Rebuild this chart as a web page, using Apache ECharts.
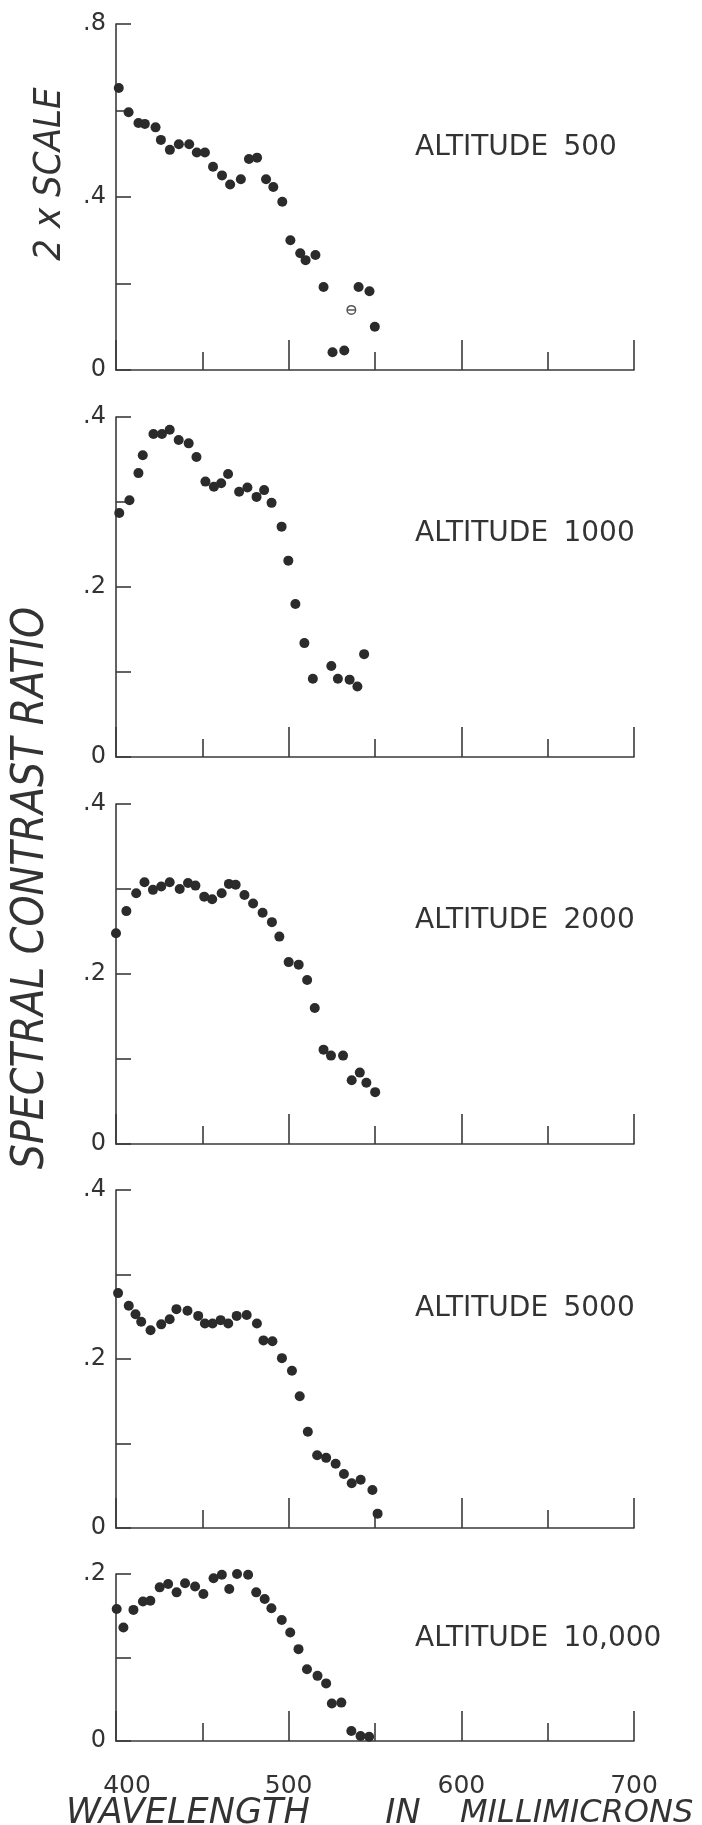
<!DOCTYPE html>
<html>
<head>
<meta charset="utf-8">
<script src="https://cdn.jsdelivr.net/npm/echarts@6/dist/echarts.min.js"></script>
<style>
  html, body { margin: 0; padding: 0; background: #ffffff; }
  #chart { width: 702px; height: 1825px; }
</style>
</head>
<body>
<div id="chart"></div>
<script>
// Wavelength axis (millimicrons)
const wavelengthTicks = [400, 500, 600, 700];
const wavelengthMinorTicks = [450, 550, 650];

// Altitude of each panel, top to bottom
const altitudes = ['500', '1000', '2000', '5000', '10,000'];

// Labelled ratio values on each panel's vertical axis
const ratioLabels500 = [0, 0.4, 0.8];
const ratioLabels = [0, 0.2, 0.4];
const ratioLabels10000 = [0, 0.2];

// Altitude 500 (plotted at 2x scale)
const wl500 = [401.6, 407.3, 413.0, 416.7, 422.9, 426.0, 431.2, 436.4, 442.4, 446.8, 451.5, 456.2, 461.4, 466.1, 472.3, 477.0, 481.7, 486.9, 491.1, 496.3, 501.0, 506.7, 509.8, 515.5, 520.2, 525.4, 532.2, 540.5, 546.8, 549.9];
const cr500 = [0.652, 0.596, 0.571, 0.569, 0.561, 0.532, 0.509, 0.522, 0.522, 0.503, 0.503, 0.470, 0.450, 0.429, 0.441, 0.488, 0.491, 0.441, 0.423, 0.389, 0.300, 0.270, 0.254, 0.266, 0.192, 0.041, 0.045, 0.192, 0.182, 0.100];
// struck-through reading at altitude 500
const wl500Open = [536.3];
const cr500Open = [0.139];

// Altitude 1000
const wl1000 = [401.9, 407.8, 413.0, 415.5, 421.7, 426.6, 431.1, 436.3, 442.1, 446.6, 451.8, 456.7, 460.9, 464.9, 471.3, 476.1, 481.4, 485.8, 490.1, 495.9, 499.8, 503.9, 509.1, 514.0, 524.7, 528.5, 535.3, 539.8, 543.7];
const cr1000 = [0.287, 0.302, 0.334, 0.355, 0.380, 0.380, 0.385, 0.373, 0.369, 0.353, 0.324, 0.318, 0.322, 0.333, 0.312, 0.317, 0.306, 0.314, 0.299, 0.271, 0.231, 0.180, 0.134, 0.092, 0.107, 0.092, 0.091, 0.083, 0.121];

// Altitude 2000
const wl2000 = [400.0, 406.0, 411.7, 416.5, 421.4, 426.2, 431.1, 436.9, 441.7, 446.0, 451.1, 455.7, 461.2, 465.4, 469.3, 474.4, 479.4, 484.9, 490.3, 494.6, 500.0, 505.8, 510.7, 515.1, 520.2, 524.5, 531.5, 536.5, 541.2, 545.0, 550.1];
const cr2000 = [0.248, 0.274, 0.295, 0.308, 0.299, 0.303, 0.308, 0.300, 0.307, 0.304, 0.291, 0.288, 0.295, 0.306, 0.305, 0.293, 0.283, 0.272, 0.261, 0.244, 0.214, 0.211, 0.193, 0.160, 0.111, 0.104, 0.104, 0.075, 0.084, 0.072, 0.061];

// Altitude 5000
const wl5000 = [401.2, 407.4, 411.3, 414.6, 420.0, 426.2, 431.1, 435.0, 441.4, 447.6, 451.5, 455.9, 460.6, 465.0, 469.9, 475.7, 481.6, 485.4, 490.6, 496.1, 501.9, 506.4, 511.1, 516.5, 521.7, 527.2, 532.0, 536.5, 541.7, 548.5, 551.5];
const cr5000 = [0.278, 0.263, 0.253, 0.244, 0.234, 0.241, 0.247, 0.259, 0.257, 0.251, 0.242, 0.242, 0.246, 0.242, 0.251, 0.252, 0.242, 0.222, 0.221, 0.201, 0.186, 0.156, 0.114, 0.086, 0.083, 0.076, 0.064, 0.053, 0.057, 0.045, 0.017];

// Altitude 10,000
const wl10000 = [400.4, 404.3, 410.1, 415.6, 419.9, 425.3, 430.2, 435.1, 440.0, 445.8, 450.6, 456.5, 461.3, 465.6, 470.1, 476.5, 481.2, 486.1, 490.0, 496.0, 500.9, 505.7, 510.6, 516.7, 521.7, 525.0, 530.5, 536.3, 541.6, 546.6];
const cr10000 = [0.158, 0.136, 0.157, 0.167, 0.168, 0.184, 0.188, 0.178, 0.189, 0.185, 0.176, 0.195, 0.199, 0.182, 0.200, 0.199, 0.178, 0.170, 0.159, 0.145, 0.130, 0.110, 0.086, 0.078, 0.069, 0.045, 0.046, 0.012, 0.006, 0.005];

const INK = '#2b2b2b';
const LINE = '#3a3a3a';
const FONT = "'DejaVu Sans', 'Liberation Sans', sans-serif";
const FONT_NARROW = "'DejaVu Sans Condensed', 'Liberation Sans Narrow', 'DejaVu Sans', sans-serif";

// ring with a bar through it
const STRUCK_DOT = 'path://M0,10A10,10,0,1,0,20,10A10,10,0,1,0,0,10ZM3,10A7,7,0,1,1,17,10A7,7,0,1,1,3,10ZM3,8.5L17,8.5L17,11.5L3,11.5Z';

const zip = (xs, ys) => xs.map((x, i) => [x, ys[i]]);

// Panel layout, top to bottom
const panels = [
  { top: 24,   height: 346, max: 0.8, step: 0.2, labels: ratioLabels500,   wl: wl500,   cr: cr500,   altY: 144 },
  { top: 417,  height: 340, max: 0.4, step: 0.1, labels: ratioLabels,      wl: wl1000,  cr: cr1000,  altY: 530 },
  { top: 804,  height: 340, max: 0.4, step: 0.1, labels: ratioLabels,      wl: wl2000,  cr: cr2000,  altY: 917 },
  { top: 1190, height: 338, max: 0.4, step: 0.1, labels: ratioLabels,      wl: wl5000,  cr: cr5000,  altY: 1305 },
  { top: 1574, height: 167, max: 0.2, step: 0.1, labels: ratioLabels10000, wl: wl10000, cr: cr10000, altY: 1635 }
];

const ratioText = (v, labels) => {
  const hit = labels.some(l => Math.abs(l - v) < 1e-6);
  if (!hit) return '';
  if (Math.abs(v) < 1e-6) return '0';
  return '.' + Math.round(v * 10);
};

const tickLine = { color: LINE, width: 1.6 };
const grids = [], xAxes = [], yAxes = [], series = [], graphics = [];

panels.forEach((p, i) => {
  const last = i === panels.length - 1;
  grids.push({ left: 116, right: 68, top: p.top, height: p.height, containLabel: false });

  // main wavelength axis: line, long ticks every 100, labels on the bottom panel
  xAxes.push({
    type: 'value', gridIndex: i, position: 'bottom', min: 400, max: 700, interval: 100,
    axisLine: { show: true, onZero: false, lineStyle: tickLine },
    axisTick: { show: true, inside: true, length: 30, customValues: wavelengthTicks, lineStyle: tickLine },
    splitLine: { show: false },
    axisLabel: {
      show: last, margin: 33, color: '#333', fontFamily: FONT, fontSize: 25,
      customValues: wavelengthTicks,
      formatter: v => v === wavelengthTicks[0] ? '{first|' + v + '}' : String(v),
      rich: { first: { fontFamily: FONT, fontSize: 25, color: '#333', padding: [0, 0, 0, 22] } }
    }
  });
  // shorter ticks half-way between
  xAxes.push({
    type: 'value', gridIndex: i, position: 'bottom', min: 400, max: 700, interval: 50,
    axisLine: { show: false, onZero: false },
    axisTick: { show: true, inside: true, length: 18, customValues: wavelengthMinorTicks, lineStyle: tickLine },
    splitLine: { show: false },
    axisLabel: { show: false }
  });

  yAxes.push({
    type: 'value', gridIndex: i, min: 0, max: p.max, interval: p.step,
    axisLine: { show: true, onZero: false, lineStyle: tickLine },
    axisTick: { show: true, inside: true, length: 15, lineStyle: tickLine },
    splitLine: { show: false },
    axisLabel: {
      show: true, margin: 10, color: '#333', fontFamily: FONT, fontSize: 24,
      formatter: v => ratioText(v, p.labels)
    }
  });

  series.push({
    type: 'scatter', xAxisIndex: i * 2, yAxisIndex: i,
    symbol: 'circle', symbolSize: 10,
    itemStyle: { color: INK, opacity: 1 },
    data: zip(p.wl, p.cr)
  });

  graphics.push({
    type: 'text', left: 415, top: p.altY - 10,
    style: {
      text: '{a|ALTITUDE} {n|' + altitudes[i] + '}',
      rich: {
        a: { fontFamily: FONT, fontSize: 28, fill: '#333' },
        n: { fontFamily: FONT, fontSize: 28, fill: '#333', padding: [0, 0, 0, 12] }
      }
    }
  });
});

// struck-through reading in the top panel
series.push({
  type: 'scatter', xAxisIndex: 0, yAxisIndex: 0,
  symbol: STRUCK_DOT, symbolSize: 10, symbolKeepAspect: true,
  itemStyle: { color: INK },
  data: zip(wl500Open, cr500Open)
});

// axis titles
graphics.push(
  {
    type: 'text', x: 50, y: 174, rotation: Math.PI / 2,
    style: { text: '2 x SCALE', fontFamily: FONT_NARROW, fontStyle: 'italic', fontSize: 38, fill: '#333', align: 'center', verticalAlign: 'middle' }
  },
  {
    type: 'text', x: 32, y: 888, rotation: Math.PI / 2,
    style: { text: 'SPECTRAL CONTRAST RATIO', fontFamily: FONT_NARROW, fontStyle: 'italic', fontSize: 44, fill: '#333', align: 'center', verticalAlign: 'middle' }
  },
  {
    type: 'text', x: 66, y: 1814,
    style: { text: 'WAVELENGTH', fontFamily: FONT, fontStyle: 'italic', fontSize: 35, fill: '#333', align: 'left', verticalAlign: 'middle' }
  },
  {
    type: 'text', x: 403, y: 1814,
    style: { text: 'IN', fontFamily: FONT, fontStyle: 'italic', fontSize: 34, fill: '#333', align: 'center', verticalAlign: 'middle' }
  },
  {
    type: 'text', x: 460, y: 1814,
    style: { text: 'MILLIMICRONS', fontFamily: FONT, fontStyle: 'italic', fontSize: 32, fill: '#333', align: 'left', verticalAlign: 'middle' }
  }
);

const chart = echarts.init(document.getElementById('chart'), null, { renderer: 'canvas' });
chart.setOption({
  backgroundColor: '#ffffff',
  animation: false,
  grid: grids,
  xAxis: xAxes,
  yAxis: yAxes,
  series: series,
  graphic: graphics
});
</script>
</body>
</html>
